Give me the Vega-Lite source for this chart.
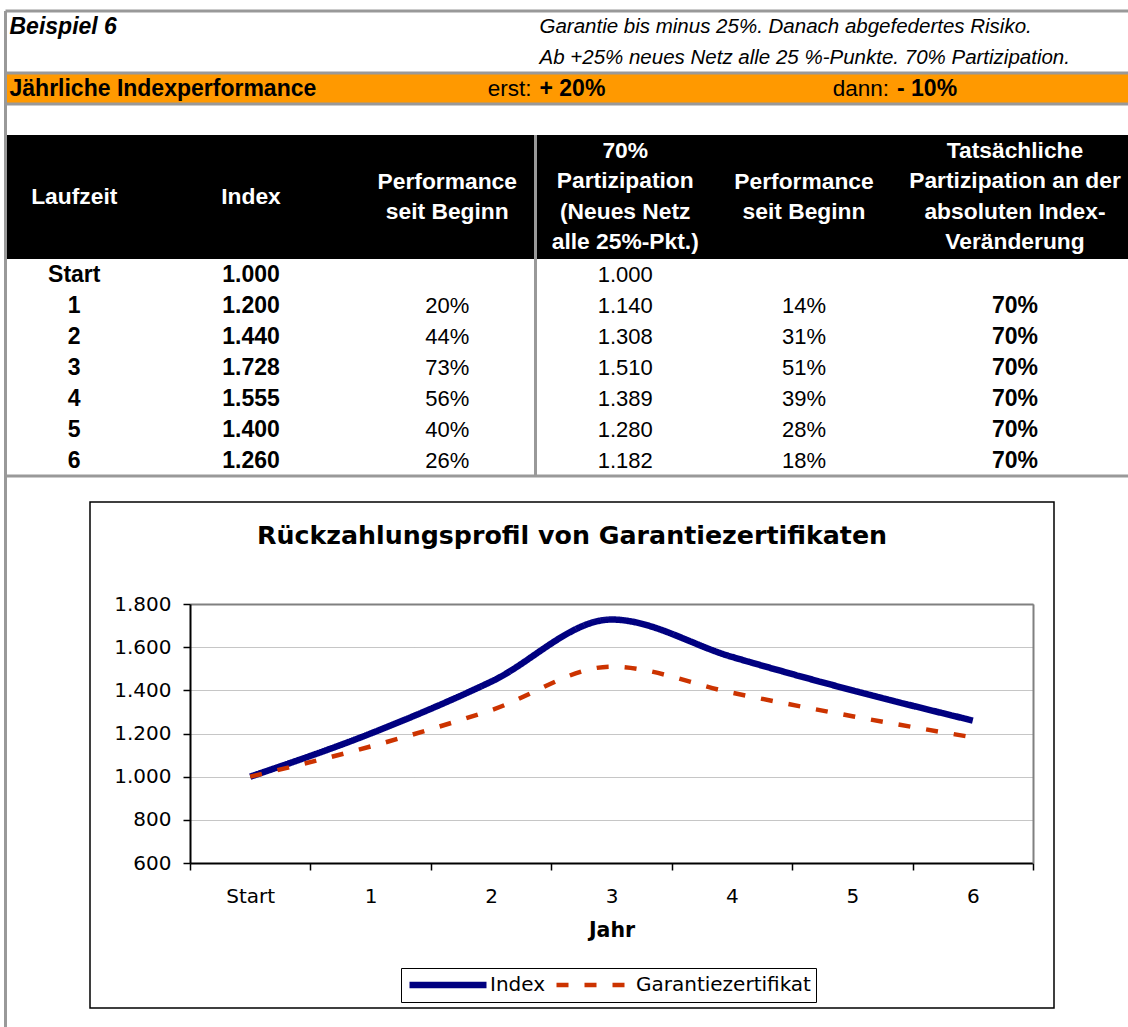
{
  "$schema": "https://vega.github.io/schema/vega-lite/v6.json",
  "width": 964,
  "height": 506,
  "padding": {"left": 90, "top": 502, "right": 74, "bottom": 19},
  "autosize": {"type": "none"},
  "background": "#ffffff",
  "title": {
    "text": "Rückzahlungsprofil von Garantiezertifikaten",
    "frame": "group",
    "anchor": "middle",
    "font": "DejaVu Sans",
    "fontSize": 25.3,
    "fontWeight": "bold",
    "color": "#000000",
    "baseline": "alphabetic",
    "offset": -560
  },
  "datasets": {
    "tabelle": [
      {"Laufzeit": "Start", "Index": 1000, "Performance": null, "Garantiezertifikat": 1000, "Performance_Zertifikat": null, "Partizipation": null},
      {"Laufzeit": "1", "Index": 1200, "Performance": 0.20, "Garantiezertifikat": 1140, "Performance_Zertifikat": 0.14, "Partizipation": 0.70},
      {"Laufzeit": "2", "Index": 1440, "Performance": 0.44, "Garantiezertifikat": 1308, "Performance_Zertifikat": 0.31, "Partizipation": 0.70},
      {"Laufzeit": "3", "Index": 1728, "Performance": 0.73, "Garantiezertifikat": 1510, "Performance_Zertifikat": 0.51, "Partizipation": 0.70},
      {"Laufzeit": "4", "Index": 1555, "Performance": 0.56, "Garantiezertifikat": 1389, "Performance_Zertifikat": 0.39, "Partizipation": 0.70},
      {"Laufzeit": "5", "Index": 1400, "Performance": 0.40, "Garantiezertifikat": 1280, "Performance_Zertifikat": 0.28, "Partizipation": 0.70},
      {"Laufzeit": "6", "Index": 1260, "Performance": 0.26, "Garantiezertifikat": 1182, "Performance_Zertifikat": 0.18, "Partizipation": 0.70}
    ],
    "zellen": [
      {"art": "titel", "zeile": 1, "spalte": 1, "text": "Beispiel 6"},
      {"art": "hinweis", "zeile": 1, "spalte": 4, "text": "Garantie bis minus 25%. Danach abgefedertes Risiko."},
      {"art": "hinweis", "zeile": 2, "spalte": 4, "text": "Ab +25% neues Netz alle 25 %-Punkte. 70% Partizipation."},
      {"art": "band", "zeile": 3, "spalte": 1, "text": "Jährliche Indexperformance"},
      {"art": "band_label", "zeile": 3, "spalte": 3, "text": "erst:"},
      {"art": "band", "zeile": 3, "spalte": 4, "text": "+ 20%"},
      {"art": "band_label", "zeile": 3, "spalte": 5, "text": "dann:"},
      {"art": "band", "zeile": 3, "spalte": 6, "text": "- 10%"}
    ],
    "kopf": [
      {"spalte": 1, "von_zeile": 5, "bis_zeile": 8, "text": ["Laufzeit"]},
      {"spalte": 2, "von_zeile": 5, "bis_zeile": 8, "text": ["Index"]},
      {"spalte": 3, "von_zeile": 5, "bis_zeile": 8, "text": ["Performance", "seit Beginn"]},
      {"spalte": 4, "von_zeile": 5, "bis_zeile": 8, "text": ["70%", "Partizipation", "(Neues Netz", "alle 25%-Pkt.)"]},
      {"spalte": 5, "von_zeile": 5, "bis_zeile": 8, "text": ["Performance", "seit Beginn"]},
      {"spalte": 6, "von_zeile": 5, "bis_zeile": 8, "text": ["Tatsächliche", "Partizipation an der", "absoluten Index-", "Veränderung"]}
    ],
    "bereiche": [
      {"bereich": "Indexperformance", "von_zeile": 3, "bis_zeile": 3, "von_spalte": 1, "bis_spalte": 6},
      {"bereich": "Kopfzeile", "von_zeile": 5, "bis_zeile": 8, "von_spalte": 1, "bis_spalte": 6}
    ],
    "linien": [
      {"richtung": "waagerecht", "zeile": 1, "von": 1, "bis": 6},
      {"richtung": "waagerecht", "zeile": 3, "von": 1, "bis": 6},
      {"richtung": "waagerecht", "zeile": 4, "von": 1, "bis": 6},
      {"richtung": "waagerecht", "zeile": 16, "von": 1, "bis": 6},
      {"richtung": "senkrecht", "spalte": 1, "von": 1, "bis": 33},
      {"richtung": "senkrecht", "spalte": 4, "von": 5, "bis": 15}
    ]
  },
  "layer": [
    {
      "encoding": {
        "x": {"field": "sx", "type": "quantitative", "axis": null,
              "scale": {"domain": [0.5, 1.5, 2.5, 3.5, 4.5, 5.5, 6.5], "range": [-84.5, 53, 269, 445.5, 625, 803, 1047], "zero": false, "nice": false}},
        "y": {"field": "sy", "type": "quantitative", "axis": null,
              "scale": {"domain": [0.5, 15.5], "range": [-491, -26], "zero": false, "nice": false}}
      },
      "layer": [
        {
          "data": {"name": "bereiche"},
          "transform": [
            {"calculate": "datum.von_spalte - 0.5", "as": "sx"},
            {"calculate": "datum.bis_spalte + 0.5", "as": "sx2"},
            {"calculate": "datum.von_zeile - 0.5", "as": "sy"},
            {"calculate": "datum.bis_zeile + 0.5", "as": "sy2"}
          ],
          "mark": {"type": "rect"},
          "encoding": {
            "x2": {"field": "sx2"},
            "y2": {"field": "sy2"},
            "fill": {"condition": {"test": "datum.bereich === 'Kopfzeile'", "value": "#000000"}, "value": "#FF9900"}
          }
        },
        {
          "data": {"name": "linien"},
          "transform": [
            {"filter": "datum.richtung === 'waagerecht'"},
            {"calculate": "datum.von - 0.5", "as": "sx"},
            {"calculate": "datum.bis + 0.5", "as": "sx2"},
            {"calculate": "datum.zeile - 0.5", "as": "sy"}
          ],
          "mark": {"type": "rule", "stroke": "#999999", "strokeWidth": 3},
          "encoding": {"x2": {"field": "sx2"}}
        },
        {
          "data": {"name": "linien"},
          "transform": [
            {"filter": "datum.richtung === 'senkrecht'"},
            {"calculate": "datum.spalte - 0.5", "as": "sx"},
            {"calculate": "datum.von - 0.5", "as": "sy"},
            {"calculate": "datum.bis + 0.5", "as": "sy2"}
          ],
          "mark": {"type": "rule", "stroke": "#999999", "strokeWidth": 3},
          "encoding": {"y2": {"field": "sy2"}}
        },
        {
          "data": {"name": "zellen"},
          "transform": [
            {"filter": "datum.art === 'titel'"},
            {"calculate": "datum.spalte - 0.5", "as": "sx"},
            {"calculate": "datum.zeile", "as": "sy"}
          ],
          "mark": {"type": "text", "align": "left", "baseline": "middle", "dx": 4, "font": "Liberation Sans", "fontSize": 23, "fontWeight": "bold", "fontStyle": "italic", "color": "#000000"},
          "encoding": {"text": {"field": "text"}}
        },
        {
          "data": {"name": "zellen"},
          "transform": [
            {"filter": "datum.art === 'hinweis'"},
            {"calculate": "datum.spalte - 0.5", "as": "sx"},
            {"calculate": "datum.zeile", "as": "sy"}
          ],
          "mark": {"type": "text", "align": "left", "baseline": "middle", "dx": 4, "font": "Liberation Sans", "fontSize": 20.5, "fontStyle": "italic", "color": "#000000"},
          "encoding": {"text": {"field": "text"}}
        },
        {
          "data": {"name": "zellen"},
          "transform": [
            {"filter": "datum.art === 'band'"},
            {"calculate": "datum.spalte - 0.5", "as": "sx"},
            {"calculate": "datum.zeile", "as": "sy"}
          ],
          "mark": {"type": "text", "align": "left", "baseline": "middle", "dx": 4, "font": "Liberation Sans", "fontSize": 23, "fontWeight": "bold", "color": "#000000"},
          "encoding": {"text": {"field": "text"}}
        },
        {
          "data": {"name": "zellen"},
          "transform": [
            {"filter": "datum.art === 'band_label'"},
            {"calculate": "datum.spalte + 0.5", "as": "sx"},
            {"calculate": "datum.zeile", "as": "sy"}
          ],
          "mark": {"type": "text", "align": "right", "baseline": "middle", "dx": -4, "font": "Liberation Sans", "fontSize": 22.5, "color": "#000000"},
          "encoding": {"text": {"field": "text"}}
        },
        {
          "data": {"name": "kopf"},
          "transform": [
            {"calculate": "datum.spalte", "as": "sx"},
            {"calculate": "(datum.von_zeile + datum.bis_zeile) / 2 - (length(datum.text) - 1) / 2", "as": "sy"}
          ],
          "mark": {"type": "text", "align": "center", "baseline": "middle", "font": "Liberation Sans", "fontSize": 22.8, "fontWeight": "bold", "lineHeight": 30.5, "color": "#ffffff"},
          "encoding": {"text": {"field": "text"}}
        }
      ]
    },
    {
      "data": {"name": "tabelle"},
      "encoding": {
        "y": {"field": "Laufzeit", "type": "nominal", "axis": null,
              "scale": {"domain": ["Start", "1", "2", "3", "4", "5", "6"], "range": [-243, -26], "paddingInner": 0, "paddingOuter": 0}}
      },
      "layer": [
        {
          "mark": {"type": "text", "align": "center", "baseline": "middle", "font": "Liberation Sans", "fontSize": 23, "fontWeight": "bold", "color": "#000000"},
          "encoding": {
            "x": {"datum": 1, "type": "quantitative", "axis": null,
                  "scale": {"domain": [0.5, 1.5, 2.5, 3.5, 4.5, 5.5, 6.5], "range": [-84.5, 53, 269, 445.5, 625, 803, 1047], "zero": false, "nice": false}},
            "text": {"field": "Laufzeit", "type": "nominal"}
          }
        },
        {
          "mark": {"type": "text", "align": "center", "baseline": "middle", "font": "Liberation Sans", "fontSize": 23, "fontWeight": "bold", "color": "#000000"},
          "encoding": {
            "x": {"datum": 2, "type": "quantitative"},
            "text": {"field": "Index", "type": "quantitative", "format": ",.0f"}
          }
        },
        {
          "transform": [{"filter": "isValid(datum.Performance)"}],
          "mark": {"type": "text", "align": "center", "baseline": "middle", "font": "Liberation Sans", "fontSize": 22, "color": "#000000"},
          "encoding": {
            "x": {"datum": 3, "type": "quantitative"},
            "text": {"field": "Performance", "type": "quantitative", "format": ".0%"}
          }
        },
        {
          "mark": {"type": "text", "align": "center", "baseline": "middle", "font": "Liberation Sans", "fontSize": 22, "color": "#000000"},
          "encoding": {
            "x": {"datum": 4, "type": "quantitative"},
            "text": {"field": "Garantiezertifikat", "type": "quantitative", "format": ",.0f"}
          }
        },
        {
          "transform": [{"filter": "isValid(datum.Performance_Zertifikat)"}],
          "mark": {"type": "text", "align": "center", "baseline": "middle", "font": "Liberation Sans", "fontSize": 22, "color": "#000000"},
          "encoding": {
            "x": {"datum": 5, "type": "quantitative"},
            "text": {"field": "Performance_Zertifikat", "type": "quantitative", "format": ".0%"}
          }
        },
        {
          "transform": [{"filter": "isValid(datum.Partizipation)"}],
          "mark": {"type": "text", "align": "center", "baseline": "middle", "font": "Liberation Sans", "fontSize": 23, "fontWeight": "bold", "color": "#000000"},
          "encoding": {
            "x": {"datum": 6, "type": "quantitative"},
            "text": {"field": "Partizipation", "type": "quantitative", "format": ".0%"}
          }
        }
      ]
    },
    {
      "data": {"name": "tabelle"},
      "transform": [{"fold": ["Index", "Garantiezertifikat"], "as": ["Reihe", "Wert"]}],
      "layer": [
        {
          "mark": {"type": "line", "interpolate": "monotone"},
          "encoding": {
            "x": {"field": "Laufzeit", "type": "nominal", "sort": null,
                  "scale": {"domain": ["Start", "1", "2", "3", "4", "5", "6"], "range": [100, 943], "paddingInner": 0, "paddingOuter": 0},
                  "axis": {"orient": "bottom", "offset": -145, "tickBand": "extent", "tickSize": 7, "tickColor": "#000000", "tickWidth": 1.5,
                           "domainColor": "#000000", "domainWidth": 2, "labelFont": "DejaVu Sans", "labelFontSize": 20, "labelColor": "#000000",
                           "labelAngle": 0, "labelPadding": 16, "grid": false,
                           "title": "Jahr", "titleFont": "DejaVu Sans", "titleFontSize": 20.5, "titleFontWeight": "bold", "titleColor": "#000000", "titlePadding": 14}},
            "y": {"field": "Wert", "type": "quantitative",
                  "scale": {"domain": [600, 1800], "range": [361, 102], "zero": false, "nice": false},
                  "axis": {"orient": "left", "offset": -100, "values": [600, 800, 1000, 1200, 1400, 1600, 1800], "format": ",d",
                           "labelFont": "DejaVu Sans", "labelFontSize": 20, "labelColor": "#000000", "labelPadding": 12,
                           "tickSize": 7, "tickColor": "#000000", "tickWidth": 1.5, "domainColor": "#000000", "domainWidth": 2,
                           "grid": true, "gridColor": "#8c8c8c", "gridDash": [1, 1], "gridWidth": 1, "title": null}},
            "color": {"field": "Reihe", "type": "nominal",
                      "scale": {"domain": ["Index", "Garantiezertifikat"], "range": ["#000080", "#CC3300"]},
                      "legend": {"title": null, "orient": "none", "legendX": 311, "legendY": 466, "direction": "horizontal"}},
            "strokeDash": {"field": "Reihe", "type": "nominal",
                           "scale": {"domain": ["Index", "Garantiezertifikat"], "range": [[1, 0], [12, 16]]},
                           "legend": {"title": null, "orient": "none", "legendX": 311, "legendY": 466, "direction": "horizontal"}},
            "strokeWidth": {"field": "Reihe", "type": "ordinal",
                            "scale": {"domain": ["Index", "Garantiezertifikat"], "range": [6.5, 4.5]},
                            "legend": {"title": null, "orient": "none", "legendX": 311, "legendY": 466, "direction": "horizontal"}}
          }
        },
        {
          "mark": {"type": "point", "opacity": 0},
          "encoding": {
            "x": {"field": "Laufzeit", "type": "nominal", "sort": null,
                  "axis": {"orient": "top", "offset": -102, "domainColor": "#808080", "domainWidth": 2, "ticks": false, "labels": false, "grid": false, "title": null}},
            "y": {"field": "Wert", "type": "quantitative",
                  "axis": {"orient": "right", "offset": -21, "domainColor": "#808080", "domainWidth": 2, "ticks": false, "labels": false, "grid": false, "title": null}}
          }
        }
      ],
      "resolve": {"axis": {"x": "independent", "y": "independent"}}
    }
  ],
  "resolve": {"scale": {"x": "independent", "y": "independent"}},
  "config": {
    "locale": {"number": {"decimal": ",", "thousands": ".", "grouping": [3], "currency": ["", " €"]}},
    "view": {"stroke": "#000000", "strokeWidth": 1.5},
    "legend": {
      "symbolType": "stroke",
      "symbolSize": 5929,
      "labelFont": "DejaVu Sans",
      "labelFontSize": 20,
      "labelColor": "#000000",
      "labelLimit": 400,
      "strokeColor": "#000000",
      "fillColor": "#ffffff",
      "padding": 5,
      "labelOffset": 0,
      "columnPadding": 8,
      "clipHeight": 24
    }
  }
}
